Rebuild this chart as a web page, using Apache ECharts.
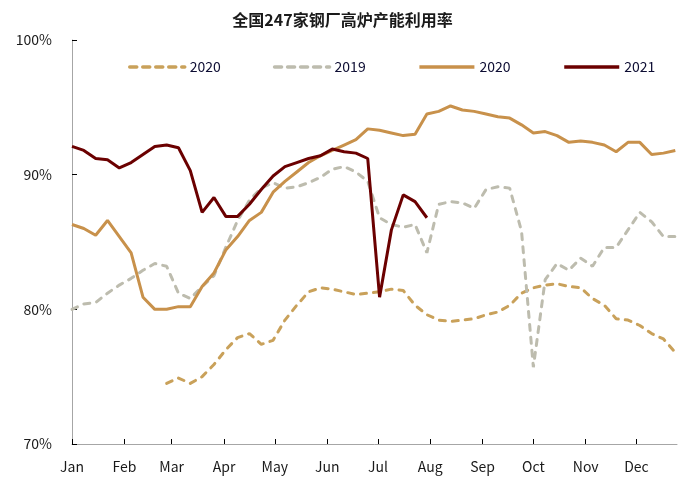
<!DOCTYPE html>
<html>
<head>
<meta charset="utf-8">
<script src="https://cdn.jsdelivr.net/npm/echarts@6/dist/echarts.min.js"></script>
<style>html,body{margin:0;padding:0;background:#fff}#c{width:685px;height:499px}</style>
</head>
<body>
<div id="c"></div>
<script>
const monthNames = ['Jan','Feb','Mar','Apr','May','Jun','Jul','Aug','Sep','Oct','Nov','Dec'];
const monthStartDays = [0,31,59,90,120,151,181,212,243,273,304,334];
const yTicks = [70, 80, 90, 100];

// weekly values (week index from Jan 1)
const dashed2020Start = 8;
const dashed2020 = [74.5,74.9,74.5,75.0,75.9,77.0,77.9,78.2,77.4,77.7,79.2,80.3,81.3,81.6,81.5,81.3,81.1,81.2,81.3,81.5,81.4,80.3,79.6,79.2,79.1,79.2,79.3,79.6,79.8,80.3,81.2,81.6,81.8,81.9,81.7,81.6,80.8,80.3,79.3,79.2,78.8,78.2,77.8,76.8];
const dashed2019Start = 0;
const dashed2019 = [80.0,80.4,80.5,81.2,81.8,82.3,82.9,83.4,83.2,81.2,80.8,81.7,82.5,84.6,86.6,88.1,89.0,89.4,89.0,89.1,89.4,89.8,90.4,90.6,90.2,89.5,86.8,86.3,86.1,86.3,84.2,87.8,88.0,87.9,87.5,88.9,89.1,89.0,85.8,75.7,82.2,83.4,82.9,83.8,83.2,84.6,84.6,85.9,87.2,86.5,85.4,85.4];
const solid2020Start = 0;
const solid2020 = [86.3,86.0,85.5,86.6,85.4,84.2,80.9,80.0,80.0,80.2,80.2,81.7,82.7,84.4,85.4,86.6,87.2,88.7,89.5,90.2,90.9,91.4,91.8,92.2,92.6,93.4,93.3,93.1,92.9,93.0,94.5,94.7,95.1,94.8,94.7,94.5,94.3,94.2,93.7,93.1,93.2,92.9,92.4,92.5,92.4,92.2,91.7,92.4,92.4,91.5,91.6,91.8];
const solid2021Start = 0;
const solid2021 = [92.1,91.8,91.2,91.1,90.5,90.9,91.5,92.1,92.2,92.0,90.3,87.2,88.3,86.9,86.9,87.8,88.9,89.9,90.6,90.9,91.2,91.4,91.9,91.7,91.6,91.2,80.9,85.9,88.5,88.0,86.8];

function toPts(start, vals) { return vals.map((v, i) => [(start + i) * 7, v]); }

const FONT = '"Noto Sans CJK SC", "Noto Sans", sans-serif';
const chart = echarts.init(document.getElementById('c'), null, {renderer: 'canvas'});
const dash = [6, 7];
const legendDash = [7, 6];
chart.setOption({
  animation: false,
  backgroundColor: '#fff',
  title: {
    text: '全国247家钢厂高炉产能利用率',
    left: 'center', top: 7,
    textStyle: {fontFamily: FONT, fontSize: 16, fontWeight: 'bold', color: '#1a1a1a'}
  },
  legend: {
    left: 128, top: 60, itemWidth: 55, itemHeight: 14, itemGap: 52, padding: 0,
    formatter: n => n.slice(0, 4),
    itemStyle: {opacity: 0},
    lineStyle: {width: 3.5},
    textStyle: {fontFamily: FONT, fontSize: 14, color: '#0d0d33'},
    data: [
      {name: '2020a', lineStyle: {width: 3.5, type: legendDash, cap: 'round'}},
      {name: '2019', lineStyle: {width: 3.5, type: legendDash, cap: 'round'}},
      {name: '2020b', lineStyle: {width: 3.5}},
      {name: '2021', lineStyle: {width: 3.5}}
    ]
  },
  grid: {left: 72, right: 8, top: 40, bottom: 55, containLabel: false},
  xAxis: {
    type: 'value', min: 0, max: 358,
    axisLine: {lineStyle: {color: '#a6a6a6', width: 1}},
    axisTick: {show: true, inside: true, length: 5, lineStyle: {color: '#000'}, customValues: monthStartDays},
    axisLabel: {
      customValues: monthStartDays, margin: 16,
      formatter: v => monthNames[monthStartDays.indexOf(v)] || '',
      fontFamily: FONT, fontSize: 14, color: '#1a1a1a'
    },
    splitLine: {show: false}
  },
  yAxis: {
    type: 'value', min: yTicks[0], max: yTicks[yTicks.length - 1], interval: 10,
    axisLine: {show: true, lineStyle: {color: '#a6a6a6', width: 1}},
    axisTick: {show: true, inside: true, length: 5, lineStyle: {color: '#000'}},
    axisLabel: {formatter: '{value}%', margin: 20, fontFamily: FONT, fontSize: 14, color: '#1a1a1a'},
    splitLine: {show: false}
  },
  series: [
    {name: '2020a', type: 'line', showSymbol: false, symbol: 'none', data: toPts(dashed2020Start, dashed2020),
     lineStyle: {color: '#c9a15a', width: 3, type: dash, cap: 'round'}, itemStyle: {color: '#c9a15a'}},
    {name: '2019', type: 'line', showSymbol: false, symbol: 'none', data: toPts(dashed2019Start, dashed2019),
     lineStyle: {color: '#bdbcae', width: 3, type: dash, cap: 'round'}, itemStyle: {color: '#bdbcae'}},
    {name: '2020b', type: 'line', showSymbol: false, symbol: 'none', data: toPts(solid2020Start, solid2020),
     lineStyle: {color: '#c8914b', width: 3}, itemStyle: {color: '#c8914b'}},
    {name: '2021', type: 'line', showSymbol: false, symbol: 'none', data: toPts(solid2021Start, solid2021),
     lineStyle: {color: '#6b0000', width: 3}, itemStyle: {color: '#6b0000'}}
  ]
});
</script>
</body>
</html>
